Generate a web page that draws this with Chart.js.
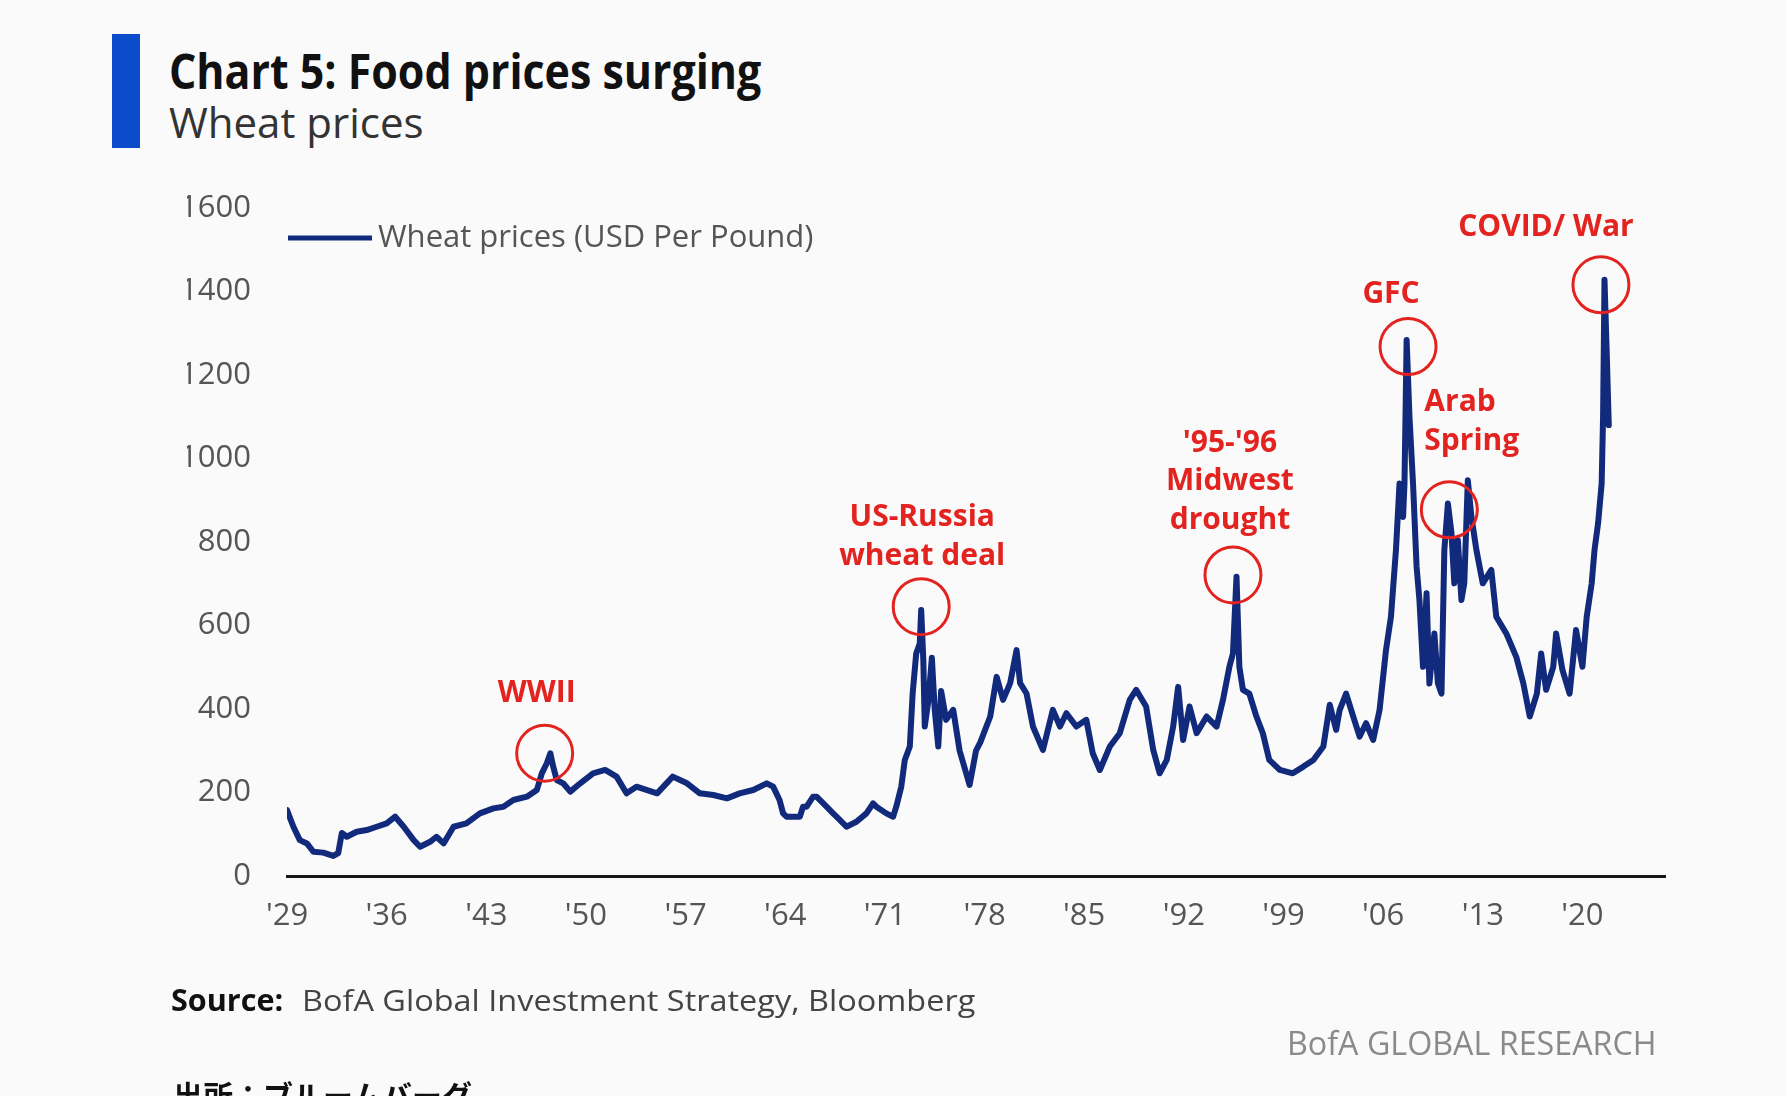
<!DOCTYPE html>
<html>
<head>
<meta charset="utf-8">
<title>Chart 5: Food prices surging</title>
<script src="https://cdn.jsdelivr.net/npm/chart.js@4.4.1/dist/chart.umd.min.js"></script>
<style>
    html, body { margin: 0; padding: 0; }
    body {
        width: 1786px; height: 1096px; position: relative; overflow: hidden;
        background: #fafafa; font-family: "Open Sans", "Noto Sans", sans-serif;
    }
    .accent { position: absolute; left: 112px; top: 34px; width: 28px; height: 114px; background: #0b4ccb; }
    .fit { position: absolute; white-space: nowrap; transform-origin: 0 0; }
    #title { left: 169px; top: 47px; font-size: 48px; line-height: 48px; font-weight: 700; color: #111; }
    #subtitle { left: 169px; top: 101px; font-size: 42px; line-height: 42px; color: #333; }
    #chartBox { position: absolute; left: 0; top: 0; width: 1786px; height: 1096px; }
    .src { position: absolute; top: 984px; font-size: 30px; line-height: 32px; white-space: nowrap; }
    #srcLabel { left: 171px; font-weight: 700; color: #111; }
    #srcText { left: 302px; color: #444; }
    #brand { position: absolute; left: 1287px; top: 1027px; font-size: 32px; line-height: 32px; color: #8a8a8a; }
    #jp { position: absolute; left: 173px; top: 1079px; font-size: 30px; line-height: 30px; font-weight: 700;
          color: #111; font-family: "Noto Sans CJK JP", sans-serif; white-space: nowrap; }
</style>
</head>
<body>
<div class="accent"></div>
<div id="title" class="fit" data-w="592">Chart 5: Food prices surging</div>
<div id="subtitle" class="fit" data-w="255">Wheat prices</div>
<div id="chartBox"><canvas id="wheatChart" width="1786" height="1096"></canvas></div>
<div id="srcLabel" class="src fit" data-w="112">Source:</div>
<div id="srcText" class="src fit" data-w="673">BofA Global Investment Strategy, Bloomberg</div>
<div id="brand" class="fit" data-w="370">BofA GLOBAL RESEARCH</div>
<div id="jp">出所：ブルームバーグ</div>

<script>
// 数据：年份（小数）与小麦价格
const years = [
    1929.0, 1929.45, 1929.9, 1930.4, 1930.85, 1931.55, 1932.25, 1932.6, 1932.85, 1933.2,
    1933.9, 1934.6, 1935.3, 1936.0, 1936.6, 1937.2, 1937.9, 1938.35, 1939.05, 1939.5,
    1940.0, 1940.7, 1941.6, 1942.55, 1943.5, 1944.2, 1944.9, 1945.85, 1946.55, 1946.9,
    1947.25, 1947.5, 1947.7, 1947.95, 1948.4, 1948.9, 1949.6, 1950.5, 1951.35, 1952.15,
    1952.85, 1953.55, 1955.0, 1956.1, 1957.1, 1958.0, 1958.95, 1959.9, 1960.8, 1961.75,
    1962.7, 1963.15, 1963.6, 1963.85, 1964.09, 1964.55, 1965.03, 1965.25, 1965.5, 1965.96,
    1966.2, 1966.9, 1967.36, 1967.6, 1968.3, 1968.77, 1969.0, 1969.7, 1970.17, 1970.4,
    1971.1, 1971.58, 1971.8, 1972.15, 1972.4, 1972.75, 1972.95, 1973.2,
    1973.45, 1973.55, 1973.7, 1973.8, 1974.05, 1974.3, 1974.5, 1974.75, 1974.95, 1975.3,
    1975.8, 1976.25, 1976.95, 1977.4, 1977.7, 1978.4, 1978.85, 1979.3, 1979.8, 1980.25,
    1980.5, 1980.95, 1981.4, 1982.1, 1982.8, 1983.3, 1983.75, 1984.45, 1985.15, 1985.6,
    1986.1, 1986.8, 1987.5, 1988.2, 1988.65, 1989.35, 1989.85, 1990.3, 1990.8, 1991.25,
    1991.6, 1991.95, 1992.4, 1992.9, 1993.6, 1994.3, 1994.75, 1995.2, 1995.45, 1995.7,
    1995.9, 1996.15, 1996.6, 1997.1, 1997.55, 1998.0, 1998.75, 1999.65, 2000.4, 2001.1,
    2001.8, 2002.25, 2002.7, 2002.95, 2003.4, 2003.9, 2004.35, 2004.8, 2005.3, 2005.75,
    2006.2, 2006.55, 2006.9, 2007.15, 2007.4, 2007.5, 2007.65, 2007.85, 2008.1, 2008.35,
    2008.55, 2008.8, 2009.05, 2009.25, 2009.6, 2009.85, 2010.1, 2010.3, 2010.55, 2010.8,
    2011.0, 2011.25, 2011.5, 2011.7, 2011.95, 2012.2, 2012.55, 2013.0, 2013.6, 2013.95,
    2014.65, 2015.35, 2015.85, 2016.3, 2016.8, 2017.1, 2017.45, 2017.95, 2018.15, 2018.6,
    2019.1, 2019.55, 2020.0, 2020.3, 2020.65, 2020.85, 2021.1, 2021.35, 2021.45, 2021.55,
    2021.7, 2021.85
];
const prices = [
    158, 118, 86, 78, 58, 56, 48, 55, 103, 94,
    106, 110, 118, 126, 142, 118, 86, 70, 82, 94,
    78, 118, 126, 150, 162, 166, 182, 190, 206, 246,
    270, 294, 262, 230, 222, 202, 222, 246, 254, 238,
    198, 214, 198, 238, 222, 198, 194, 186, 198, 206,
    222, 214, 182, 150, 142, 142, 142, 166, 166, 190,
    190, 166, 150, 142, 118, 126, 130, 150, 174, 166,
    150, 142, 166, 214, 278, 310, 437, 533,
    557, 637, 517, 358, 419, 523, 398, 310, 443, 374,
    398, 300, 218, 300, 320, 382, 477, 422, 462, 541,
    462, 437, 358, 302, 398, 358, 390, 358, 374, 294,
    254, 310, 342, 422, 446, 406, 302, 246, 278, 358,
    453, 326, 406, 342, 382, 358, 422, 501, 533, 717,
    501, 446, 437, 382, 342, 278, 254, 246, 262, 278,
    310, 410, 350, 398, 437, 382, 334, 366, 326, 398,
    541, 621, 781, 940, 860, 940, 1284, 1100, 940, 741,
    661, 501, 677, 461, 581, 461, 437, 781, 892, 821,
    701, 805, 661, 701, 948, 861, 781, 701, 733, 621,
    581, 525, 461, 382, 437, 533, 446, 501, 581, 493,
    437, 589, 501, 621, 701, 781, 845, 940, 1100, 1428,
    1260, 1080
];

// 横轴刻度
const tickYears = [1929, 1936, 1943, 1950, 1957, 1964, 1971, 1978, 1985, 1992, 1999, 2006, 2013, 2020];
const tickLabels = ["'29", "'36", "'43", "'50", "'57", "'64", "'71", "'78", "'85", "'92", "'99", "'06", "'13", "'20"];
const yTicks = [0, 200, 400, 600, 800, 1000, 1200, 1400, 1600];

// 事件标注（圆圈位置用数据坐标）
const eventLabels = [["WWII"], ["US-Russia", "wheat deal"], ["'95-'96", "Midwest", "drought"], ["GFC"], ["Arab", "Spring"], ["COVID/ War"]];
const eventYears = [1947.1, 1973.55, 1995.45, 2007.75, 2010.65, 2021.3];
const eventValues = [294, 645, 721, 1268, 877, 1416];

const seriesName = 'Wheat prices (USD Per Pound)';
const NAVY = '#112a7c';
const RED = '#e2231f';

// 标注文字相对圆心的偏移
const labelPlacement = [
    { dx: -8, dy: -60, align: 'center' },
    { dx: 1, dy: -89, align: 'center' },
    { dx: -3, dy: -132, align: 'center' },
    { dx: -17, dy: -52, align: 'center' },
    { dx: -25, dy: -107, align: 'left' },
    { dx: -55, dy: -57, align: 'center' }
];

const annotationPlugin = {
    id: 'events',
    afterDatasetsDraw(chart) {
        const { ctx, scales: { x, y } } = chart;
        ctx.save();
        eventYears.forEach((yr, i) => {
            const cx = x.getPixelForValue(yr);
            const cy = y.getPixelForValue(eventValues[i]);
            ctx.beginPath();
            ctx.strokeStyle = RED;
            ctx.lineWidth = 3;
            ctx.arc(cx, cy, 28, 0, Math.PI * 2);
            ctx.stroke();

            const p = labelPlacement[i];
            ctx.fillStyle = RED;
            ctx.font = '700 30px "Open Sans", sans-serif';
            ctx.textAlign = p.align;
            ctx.textBaseline = 'middle';
            eventLabels[i].forEach((line, j) => {
                ctx.fillText(line, cx + p.dx, cy + p.dy + j * 38.5);
            });
        });

        // 图例
        const lx = chart.chartArea.left + 1;
        const ly = 238;
        ctx.beginPath();
        ctx.strokeStyle = NAVY;
        ctx.lineWidth = 5;
        ctx.moveTo(lx, ly);
        ctx.lineTo(lx + 84, ly);
        ctx.stroke();
        ctx.fillStyle = '#555';
        ctx.font = '31px "Open Sans", sans-serif';
        ctx.textAlign = 'left';
        ctx.fillText(seriesName, lx + 90, ly);
        ctx.restore();
    }
};

Chart.defaults.font.family = '"Open Sans", sans-serif';

new Chart(document.getElementById('wheatChart'), {
    type: 'line',
    data: {
        datasets: [{
            label: seriesName,
            data: years.map((yr, i) => ({ x: yr, y: prices[i] })),
            borderColor: NAVY,
            borderWidth: 6,
            pointRadius: 0,
            tension: 0,
            borderJoinStyle: 'round',
            borderCapStyle: 'round'
        }]
    },
    options: {
        responsive: false,
        animation: false,
        devicePixelRatio: 1,
        layout: { padding: { left: 187, right: 121, top: 208, bottom: 160 } },
        plugins: { legend: { display: false }, tooltip: { enabled: false } },
        scales: {
            x: {
                type: 'linear',
                min: 1929,
                max: 2025.8,
                afterBuildTicks: scale => { scale.ticks = tickYears.map(v => ({ value: v })); },
                afterFit: scale => { scale.height = 60; },
                ticks: {
                    callback: v => tickLabels[tickYears.indexOf(v)],
                    color: '#555',
                    font: { size: 31 },
                    padding: 22,
                    maxRotation: 0,
                    autoSkip: false
                },
                grid: { display: false, drawTicks: false },
                border: { display: true, color: '#161616', width: 3 }
            },
            y: {
                min: 0,
                max: 1600,
                afterBuildTicks: scale => { scale.ticks = yTicks.map(v => ({ value: v })); },
                afterFit: scale => { scale.width = 100; },
                ticks: { callback: v => String(v), color: '#555', font: { size: 31 }, padding: 36 },
                grid: { display: false, drawTicks: false },
                border: { display: false }
            }
        }
    },
    plugins: [annotationPlugin]
});

// 文字宽度对齐
document.querySelectorAll('.fit').forEach(el => {
    const target = +el.dataset.w;
    el.style.transform = 'scaleX(' + (target / el.offsetWidth) + ')';
});
</script>
</body>
</html>
